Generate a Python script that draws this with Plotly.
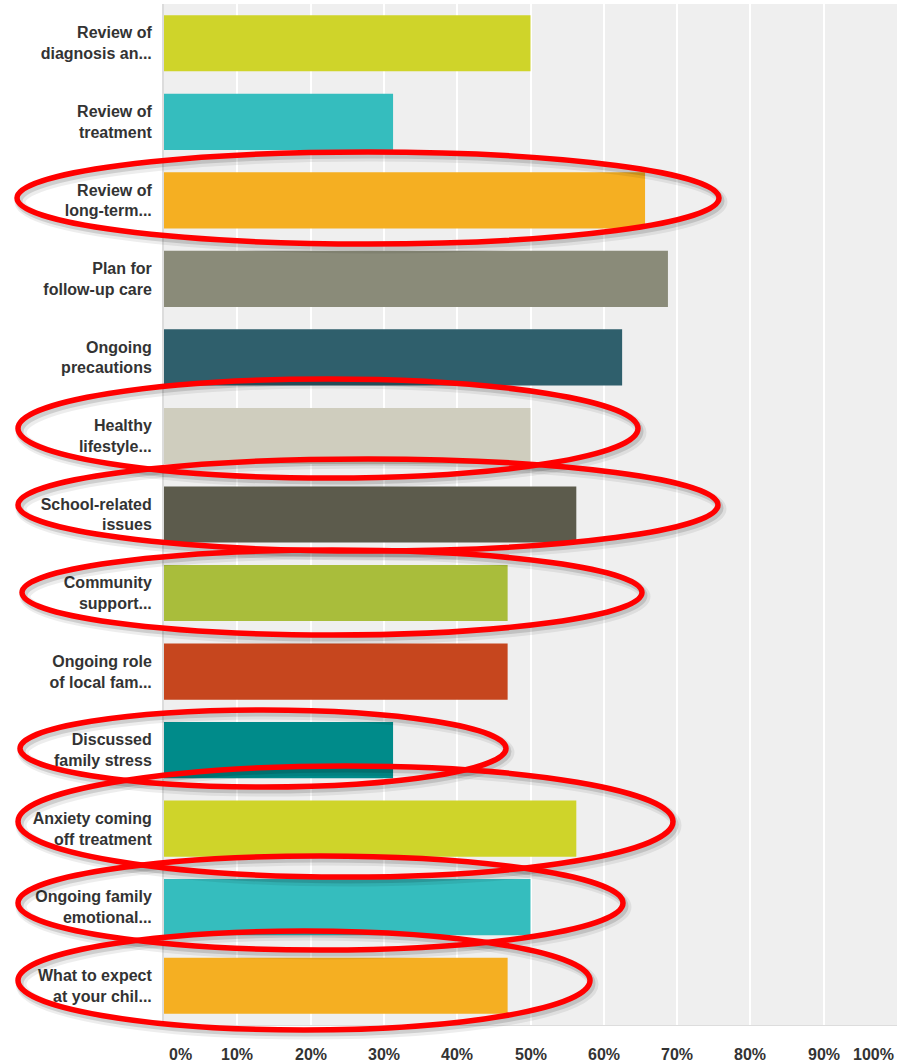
import plotly.graph_objects as go

# Survey topics (top to bottom) and share of respondents
categories = [
    "Review of<br>diagnosis an...",
    "Review of<br>treatment",
    "Review of<br>long-term...",
    "Plan for<br>follow-up care",
    "Ongoing<br>precautions",
    "Healthy<br>lifestyle...",
    "School-related<br>issues",
    "Community<br>support...",
    "Ongoing role<br>of local fam...",
    "Discussed<br>family stress",
    "Anxiety coming<br>off treatment",
    "Ongoing family<br>emotional...",
    "What to expect<br>at your chil...",
]
values = [50.0, 31.25, 65.63, 68.75, 62.5, 50.0, 56.25, 46.88, 46.88, 31.25, 56.25, 50.0, 46.88]
bar_colors = [
    "#cfd42a", "#35bdbe", "#f5af22", "#8a8b79", "#2f5f6c", "#cfcdbe", "#5c5b4c",
    "#a9bd3b", "#c6461e", "#008b8a", "#cfd42a", "#35bdbe", "#f5af22",
]
tick_values = [0, 10, 20, 30, 40, 50, 60, 70, 80, 90, 100]
tick_labels = ["0%", "10%", "20%", "30%", "40%", "50%", "60%", "70%", "80%", "90%", "100%"]

W, H = 913, 1063
L, R, T, B = 164, 16, 4, 38
PW, PH = W - L - R, H - T - B

# Red highlight rings around selected topics, in page pixels (x0, y0, x1, y1)
highlights = [
    (17, 152, 719, 244),
    (18, 379, 638, 478),
    (18, 459, 718, 551),
    (22, 550, 642, 635),
    (20, 710, 506, 787),
    (18, 766, 673, 877),
    (18, 856, 623, 950),
    (18, 931, 590, 1030),
]

FONT = "Arial, Liberation Sans, sans-serif"


def px(x):
    return (x - L) / PW


def py(y):
    return (H - B - y) / PH


fig = go.Figure(
    go.Bar(
        x=values,
        y=categories,
        orientation="h",
        marker=dict(color=bar_colors, line=dict(width=0)),
        hoverinfo="x+y",
    )
)

shapes = []
# soft drop shadow under each ring
for (x0, y0, x1, y1) in highlights:
    for off, w, a in [(4, 11, 0.07), (3, 7, 0.13)]:
        shapes.append(dict(
            type="circle", xref="paper", yref="paper",
            x0=px(x0 + off - 1), x1=px(x1 + off - 1), y0=py(y0 + off), y1=py(y1 + off),
            line=dict(color=f"rgba(0,0,0,{a})", width=w),
            fillcolor="rgba(0,0,0,0)", layer="above",
        ))
for (x0, y0, x1, y1) in highlights:
    shapes.append(dict(
        type="circle", xref="paper", yref="paper",
        x0=px(x0), x1=px(x1), y0=py(y0), y1=py(y1),
        line=dict(color="#ff0000", width=5.5),
        fillcolor="rgba(0,0,0,0)", layer="above",
    ))

# x tick labels, end labels kept inside the plot edges
annotations = []
for v, t in zip(tick_values, tick_labels):
    anchor = "center"
    xs = 0
    if v == tick_values[0]:
        anchor, xs = "left", 3
    elif v == tick_values[-1]:
        anchor, xs = "right", -1
    annotations.append(dict(
        x=v, y=0, xref="x", yref="paper", text=t, showarrow=False,
        xanchor=anchor, yanchor="middle", xshift=xs, yshift=-29,
        font=dict(family=FONT, size=16, color="#333333", weight="bold"),
    ))

fig.update_layout(
    width=W, height=H,
    margin=dict(l=L, r=R, t=T, b=B, pad=0),
    paper_bgcolor="white",
    plot_bgcolor="#efefef",
    bargap=0.285,
    showlegend=False,
    shapes=shapes,
    annotations=annotations,
    font=dict(family=FONT, color="#333333"),
)
fig.update_xaxes(
    range=[0, 100],
    tickvals=tick_values,
    showticklabels=False,
    showgrid=True, gridcolor="#ffffff", gridwidth=2,
    zeroline=False,
    showline=True, linecolor="#dddddd", linewidth=1, mirror=False,
    fixedrange=True,
)
fig.update_yaxes(
    autorange="reversed",
    tickfont=dict(family=FONT, size=16, color="#333333", weight="bold"),
    ticks="",
    ticklabelstandoff=7,
    showgrid=False,
    showline=True, linecolor="#dcdcdc", linewidth=2,
    fixedrange=True,
)

fig.write_html("out.html")
